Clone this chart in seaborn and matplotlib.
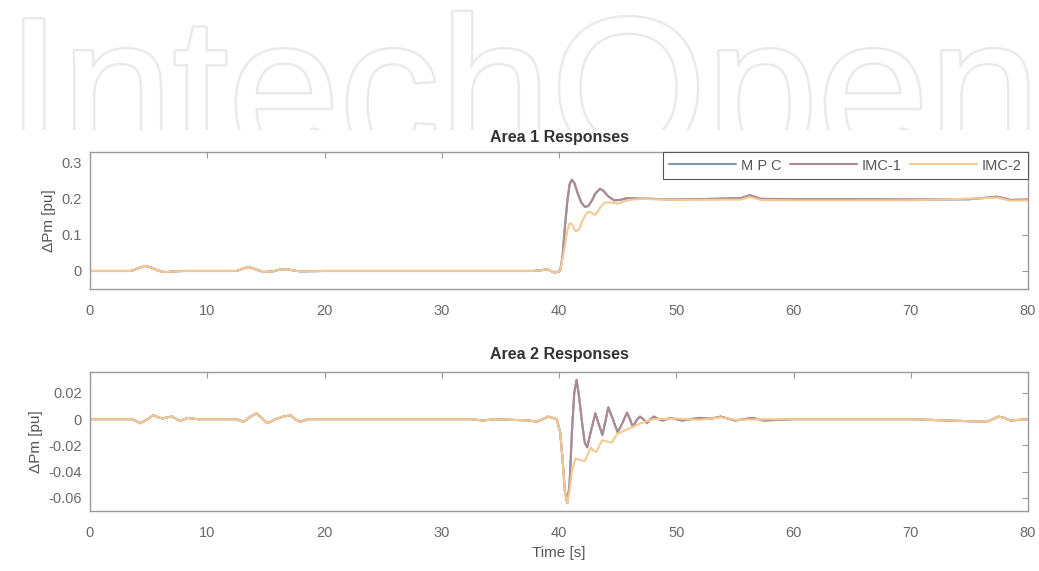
import matplotlib
matplotlib.use("Agg")
import matplotlib.pyplot as plt
import matplotlib.patheffects as pe
from matplotlib.transforms import Bbox, TransformedBbox
import pandas as pd
import seaborn as sns

# ---- data ----
series_names = ['M P C', 'IMC-1', 'IMC-2']

# Area 1: common part before the step at t = 40 s
a1_pre_t = [0, 3.5, 4.0, 4.7, 5.2, 5.6, 6.1, 6.6, 7.2, 8.0, 12.5, 13.0, 13.5, 14.0, 14.8,
            15.6, 16.2, 16.8, 17.4, 18.0, 20, 30, 37.8, 38.5, 39.0, 39.3, 39.6, 40.1]
a1_pre_y = [0, 0, 0.006, 0.014, 0.01, 0.004, -0.002, -0.003, -0.001, 0, 0, 0.006, 0.011,
            0.006, -0.003, -0.001, 0.004, 0.005, 0.001, -0.001, 0, 0, 0, 0.002, 0.005, 0.0,
            -0.005, 0]

a1_imc1_t = [40.3, 40.5, 40.7, 40.9, 41.1, 41.3, 41.6, 41.9, 42.2, 42.5, 42.8, 43.1, 43.5,
             43.8, 44.2, 44.7, 45.2, 45.8, 46.5, 48, 50, 53, 55.5, 56.3, 57.2, 60, 65, 70,
             75, 77.4, 78.5, 80]
a1_imc1_y = [0.04, 0.12, 0.19, 0.24, 0.253, 0.245, 0.215, 0.19, 0.178, 0.18, 0.195, 0.215,
             0.228, 0.222, 0.207, 0.196, 0.197, 0.202, 0.201, 0.2, 0.198, 0.2, 0.202, 0.21,
             0.2, 0.199, 0.199, 0.198, 0.199, 0.206, 0.197, 0.198]
a1_mpc_t = a1_imc1_t
a1_mpc_y = a1_imc1_y
a1_imc2_t = [40.4, 40.7, 40.9, 41.1, 41.4, 41.7, 42.0, 42.4, 42.7, 43.1, 43.5, 43.9, 44.4,
             45.0, 45.5, 46, 47, 50, 55.5, 56.3, 57.2, 60, 70, 77.4, 78.5, 80]
a1_imc2_y = [0.05, 0.11, 0.132, 0.13, 0.11, 0.115, 0.14, 0.163, 0.163, 0.155, 0.175, 0.19,
             0.19, 0.187, 0.192, 0.197, 0.2, 0.197, 0.198, 0.205, 0.197, 0.196, 0.196, 0.203,
             0.195, 0.196]

# Area 2: common part before the disturbance
a2_pre_t = [0, 3.6, 4.3, 4.9, 5.4, 5.8, 6.2, 6.6, 7.0, 7.4, 7.7, 8.3, 9.2, 12.5, 13.1,
            13.7, 14.2, 14.7, 15.1, 15.5, 15.8, 16.5, 17.1, 17.5, 17.9, 18.6, 25, 32.5,
            33.5, 34.5, 37.5, 38.1, 38.6, 39.1, 39.8]
a2_pre_y = [0, 0, -0.003, 0.0, 0.003, 0.0015, 0.0005, 0.0015, 0.002, 0.0, -0.0015, 0.001,
            0, 0, -0.002, 0.002, 0.0045, 0.0005, -0.003, -0.0015, 0, 0.002, 0.003, 0.0,
            -0.002, 0, 0, 0, -0.001, 0, -0.001, -0.002, 0.0, 0.002, 0]

a2_imc1_t = [40.1, 40.3, 40.5, 40.7, 40.9, 41.1, 41.3, 41.5, 41.7, 42.0, 42.2, 42.4, 42.7,
             43.1, 43.4, 43.7, 43.95, 44.2, 44.6, 45.0, 45.4, 45.8, 46.05, 46.3, 46.6, 46.9,
             47.2, 47.5, 47.8, 48.1, 48.5, 48.8, 49.2, 49.5, 50.0, 50.5, 51.2, 52, 53.0,
             53.8, 54.4, 55, 55.8, 56.5, 57.5, 60, 70, 76.5, 77.0, 77.5, 78.0, 78.5, 80]
a2_imc1_y = [-0.01, -0.03, -0.055, -0.064, -0.05, -0.01, 0.02, 0.030, 0.018, -0.005,
             -0.018, -0.0215, -0.01, 0.0045, -0.004, -0.012, -0.002, 0.009, 0.0, -0.010,
             -0.003, 0.005, 0.0, -0.006, -0.001, 0.002, 0.0, -0.003, 0.0, 0.002, 0.0,
             -0.001, 0.0, 0.001, 0.0, -0.001, 0.0, 0.001, 0.0005, 0.002, 0.0005, -0.001,
             0.0, 0.001, -0.001, 0, 0, -0.002, 0.0, 0.002, 0.001, -0.001, 0]
a2_mpc_t = a2_imc1_t
a2_mpc_y = a2_imc1_y
a2_imc2_t = [40.1, 40.3, 40.5, 40.7, 40.9, 41.1, 41.4, 41.8, 42.2, 42.5, 42.7, 42.95, 43.2,
             43.45, 43.7, 44.1, 44.5, 44.75, 45.0, 45.5, 46.0, 46.5, 47.0, 48.0, 50, 52,
             53.8, 55, 57.5, 60, 70, 76.5, 77.0, 77.5, 78.0, 78.5, 80]
a2_imc2_y = [-0.01, -0.03, -0.055, -0.064, -0.055, -0.04, -0.030, -0.031, -0.032, -0.026,
             -0.0215, -0.024, -0.025, -0.02, -0.016, -0.017, -0.018, -0.014, -0.011, -0.009,
             -0.007, -0.005, -0.003, 0, 0.0005, -0.0005, 0.0015, -0.0005, 0, 0, 0, -0.002,
             0.0, 0.002, 0.001, -0.001, 0]

x_ticks = [0, 10, 20, 30, 40, 50, 60, 70, 80]
a1_yticks = [0, 0.1, 0.2, 0.3]
a1_yticklabels = ['0', '0.1', '0.2', '0.3']
a2_yticks = [-0.06, -0.04, -0.02, 0, 0.02]
a2_yticklabels = ['-0.06', '-0.04', '-0.02', '0', '0.02']

palette = {'M P C': '#8197b8', 'IMC-1': '#ad8a92', 'IMC-2': '#f4c993'}


def build_frame(pre_t, pre_y, parts):
    rows = []
    for name, (t, y) in zip(series_names, parts):
        for tt, yy in zip(list(pre_t) + list(t), list(pre_y) + list(y)):
            rows.append({'Time': tt, 'Value': yy, 'Series': name})
    return pd.DataFrame(rows)


df1 = build_frame(a1_pre_t, a1_pre_y,
                  [(a1_mpc_t, a1_mpc_y), (a1_imc1_t, a1_imc1_y), (a1_imc2_t, a1_imc2_y)])
df2 = build_frame(a2_pre_t, a2_pre_y,
                  [(a2_mpc_t, a2_mpc_y), (a2_imc1_t, a2_imc1_y), (a2_imc2_t, a2_imc2_y)])

sns.set_style("white")
plt.rcParams['font.family'] = ['Liberation Sans', 'DejaVu Sans']
plt.rcParams['axes.unicode_minus'] = False

fig = plt.figure(figsize=(10.39, 5.71), dpi=100)

# faint IntechOpen watermark behind the charts
wm = fig.text(6 / 1039, 1 - 157 / 571, 'IntechOpen', fontsize=144, color='white',
              ha='left', va='baseline', zorder=0,
              path_effects=[pe.Stroke(linewidth=3.5, foreground='#eaeaea'), pe.Normal()])
wm.set_clip_box(TransformedBbox(Bbox([[0, 1 - 130 / 571], [1, 1]]), fig.transFigure))
wm.set_clip_on(True)

ax1 = fig.add_axes([90 / 1039, 1 - 289 / 571, 938 / 1039, 137 / 571])
ax2 = fig.add_axes([90 / 1039, 1 - 511 / 571, 938 / 1039, 139 / 571])

spine_col = '#9a9a9a'
tick_col = '#6a6a6a'

for ax, df in [(ax1, df1), (ax2, df2)]:
    sns.lineplot(data=df, x='Time', y='Value', hue='Series', hue_order=series_names,
                 palette=palette, estimator=None, sort=True, linewidth=1.5, ax=ax,
                 legend=(ax is ax1))
    ax.set_xlim(0, 80)
    ax.set_xticks(x_ticks)
    ax.set_xlabel('')
    ax.set_ylabel('ΔPm [pu]', fontsize=11, color='#555555', labelpad=4)
    ax.tick_params(direction='in', length=4, width=0.8, colors=spine_col,
                   labelcolor=tick_col, labelsize=10.5, top=True, right=True, pad=6)
    ax.tick_params(axis='x', pad=11)
    for s in ax.spines.values():
        s.set_color(spine_col)
        s.set_linewidth(1.0)

ax1.set_ylim(-0.05, 0.33)
ax1.set_yticks(a1_yticks)
ax1.set_yticklabels(a1_yticklabels)
ax1.set_title('Area 1 Responses', fontsize=11.5, fontweight='bold', color='#333333', pad=7)

ax2.set_ylim(-0.07, 0.036)
ax2.set_yticks(a2_yticks)
ax2.set_yticklabels(a2_yticklabels)
ax2.set_title('Area 2 Responses', fontsize=11.5, fontweight='bold', color='#333333', pad=9)
ax2.set_xlabel('Time [s]', fontsize=11, color='#555555', labelpad=4)

leg = ax1.legend(ncol=3, loc='upper right', bbox_to_anchor=(1.0, 1.0), borderaxespad=0,
                 frameon=True, fancybox=False, edgecolor='#555555', framealpha=1,
                 handlelength=4.6, handletextpad=0.3, columnspacing=0.6, fontsize=10.5,
                 borderpad=0.45)
leg.get_frame().set_linewidth(0.8)
for txt in leg.get_texts():
    txt.set_color('#555555')

fig.savefig('out.png', dpi=100)
